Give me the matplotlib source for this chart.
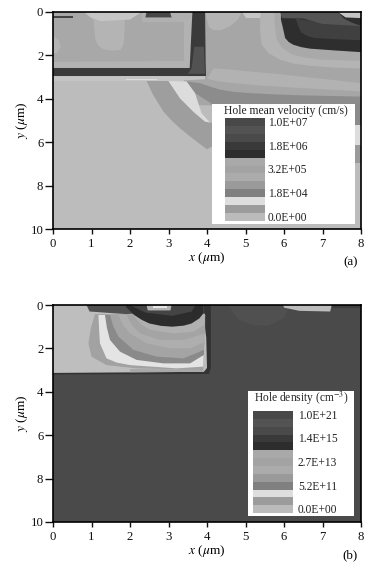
# hole velocity and hole density maps, two panels
import matplotlib
matplotlib.use("Agg")
import matplotlib.pyplot as plt

plt.rcParams["font.family"] = ["Liberation Serif", "DejaVu Serif"]
plt.rcParams["mathtext.fontset"] = "stix"

x_ticks = [0, 1, 2, 3, 4, 5, 6, 7, 8]
y_ticks = [0, 2, 4, 6, 8, 10]

# colours of the legend bands, top to bottom
band_greys = ["#484848", "#535353", "#4a4a4a", "#393939", "#2d2d2d", "#a9a9a9", "#a3a3a3",
              "#ababab", "#9a9a9a", "#808080", "#dedede", "#9c9c9c", "#bbbbbb"]
labels_a = ["1.0E+07", "1.8E+06", "3.2E+05", "1.8E+04", "0.0E+00"]
labels_b = ["1.0E+21", "1.4E+15", "2.7E+13", "5.2E+11", "0.0E+00"]

# panel a regions, (x, y) outlines in um
a_back = [(0, 0), (8, 0), (8, 10), (0, 10)]
a_strip = [(0, 2.9), (4.0, 2.9), (4.0, 3.2), (0, 3.2)]
a_strip_line = [(1.9, 3.09), (2.7, 3.09), (2.7, 3.14), (1.9, 3.14)]
a_right = [(3.95, 0), (8, 0), (8, 4.3), (3.4, 4.3), (3.4, 3.15), (3.95, 3.1)]
a_lobe_tl = [(3.95, 0), (4.9, 0), (4.8, 0.35), (4.6, 0.65), (4.35, 0.85), (4.15, 0.82), (4.05, 0.7)]
a_top_light = [(4.9, 0), (5.95, 0), (5.95, 0.28), (5.0, 0.28)]
a_arc_out = [(5.38, 0.28), (5.38, 0.9), (5.42, 1.5), (5.6, 1.9), (5.9, 2.2), (6.25, 2.38), (6.68, 2.48), (7.3, 2.56),
             (8, 2.6), (8, 0), (5.4, 0)]
a_arc_in = [(5.75, 0.28), (5.78, 0.9), (5.82, 1.3), (5.95, 1.65), (6.2, 1.95), (6.55, 2.1), (7, 2.2), (8, 2.25),
            (8, 0), (5.75, 0)]
a_band_light = [(4.17, 2.6), (4.6, 2.65), (5.12, 2.74), (5.8, 2.85), (6.42, 2.97), (7.2, 3.12), (8, 3.28), (8, 3.66),
                (7.2, 3.58), (6.42, 3.5), (5.5, 3.4), (4.69, 3.28), (4.3, 3.2), (4.0, 3.08)]
a_band_dark = [(3.47, 3.2), (3.82, 3.28), (4.05, 3.42), (4.34, 3.58), (4.7, 3.68), (5.12, 3.74), (5.8, 3.8), (6.42, 3.84),
               (8, 3.9), (8, 4.3), (4.13, 4.3), (4.1, 4.2), (3.69, 3.74)]
a_blob = [(5.92, 0), (5.92, 0.35), (5.98, 0.8), (6.03, 1.2), (6.12, 1.38), (6.24, 1.51), (6.45, 1.62), (6.68, 1.69),
          (7.3, 1.77), (8, 1.85), (8, 0)]
a_blob_mid = [(6.3, 0.3), (6.38, 0.7), (6.45, 0.95), (6.6, 1.1), (6.8, 1.2), (7.4, 1.26), (8, 1.3), (8, 0.6), (7, 0.5)]
a_blob_top = [(5.9, 0), (7.4, 0), (7.55, 0.3), (7.75, 0.48), (8, 0.65), (7, 0.55), (6.5, 0.3), (5.95, 0.28)]
a_corner = [(7.4, 0), (8, 0), (8, 0.28), (7.6, 0.25)]
a_wedge = [(2.43, 3.18), (2.6, 3.82), (2.87, 4.59), (3.05, 4.95), (3.3, 5.36), (3.5, 5.65), (3.73, 5.97), (4.0, 6.33), (4.13, 6.2),
           (4.13, 5.1), (3.95, 5.05), (3.65, 4.6), (3.3, 3.98), (3.0, 3.18)]
a_wedge_light = [(3.0, 3.18), (3.47, 3.2), (3.69, 3.74), (3.86, 4.67), (4.08, 5.1), (3.95, 5.05), (3.65, 4.6), (3.3, 3.98)]
a_box = [(0, 0), (3.62, 0), (3.62, 2.6), (0, 2.6)]
a_box_top = [(2.3, 0), (3.6, 0), (3.6, 0.45), (2.3, 0.45)]
a_box_bottom = [(0, 2.3), (3.6, 2.25), (3.6, 2.6), (0, 2.6)]
a_box_side = [(3.4, 0.3), (3.6, 0.3), (3.6, 2.3), (3.4, 2.3)]
a_lobe = [(1.05, 0.3), (1.1, 1.3), (1.18, 1.55), (1.3, 1.72), (1.55, 1.78), (1.75, 1.75), (1.83, 1.5), (1.85, 1.2), (1.87, 0.3)]
a_lobe_left = [(0, 1.1), (0.15, 1.3), (0.2, 1.6), (0.1, 1.9), (0, 1.9)]
a_arc_top = [(0.8, 0), (1.0, 0.28), (1.25, 0.42), (2.0, 0.35), (2.3, 0)]
a_bar = [(0, 0.18), (0.53, 0.18), (0.53, 0.26), (0, 0.26)]
a_gate = [(2.43, 0), (3.04, 0), (3.08, 0.25), (2.4, 0.25)]
a_frame_h = [(0, 2.58), (3.6, 2.58), (3.95, 2.4), (3.97, 2.95), (0, 2.95)]
a_frame_v = [(3.62, 0), (3.95, 0), (3.97, 2.95), (3.5, 2.95), (3.55, 2.58)]
a_frame_in = [(3.67, 1.6), (3.92, 1.6), (3.95, 2.85), (3.5, 2.85), (3.6, 2.6)]
a_edge_dark = [(7.84, 4.24), (8, 4.24), (8, 5.2), (7.84, 5.2)]
a_edge_light = [(7.84, 5.2), (8, 5.2), (8, 6.13), (7.84, 6.13)]
a_edge_mid = [(7.84, 6.13), (8, 6.13), (8, 6.96), (7.84, 6.96)]

# panel b regions
b_back = [(0, 0), (8, 0), (8, 10), (0, 10)]
b_circle = [(4.55, 0), (6.16, 0), (6.0, 0.6), (5.6, 0.95), (5.2, 0.95), (4.8, 0.65)]
b_gate_r = [(5.98, 0), (7.24, 0), (7.2, 0.3), (6.4, 0.27), (6.0, 0.12)]
b_cap_r = [(7.24, 0), (8, 0), (8, 0.12), (7.24, 0.12)]
b_rim = [(3.85, 0), (4.1, 0), (4.1, 2.9), (4.05, 3.18), (0, 3.2), (0, 3.05), (3.85, 3.05)]
b_box = [(0, 0), (3.9, 0), (3.9, 0.4), (3.98, 1.5), (4.0, 2.9), (3.92, 3.08), (0, 3.13)]
b_base_line = [(2.0, 2.95), (3.9, 2.98), (3.92, 3.08), (2.0, 3.1)]
b_l1 = [(1.09, 0.42), (0.98, 1.1), (0.92, 1.77), (1.0, 2.38), (1.39, 2.77), (2.17, 2.92), (3.9, 3.0), (3.95, 0.46)]
b_l2 = [(1.18, 0.46), (1.2, 1.2), (1.22, 1.77), (1.39, 2.46), (1.65, 2.65), (2.0, 2.77), (3.21, 2.92), (3.9, 2.84), (3.95, 0.46)]
b_l3 = [(1.35, 0.46), (1.4, 1.05), (1.48, 1.61), (1.74, 2.15), (2.17, 2.53), (2.87, 2.69), (3.56, 2.69), (3.92, 2.3), (3.95, 0.46)]
b_l4 = [(1.48, 0.46), (1.57, 1.0), (1.7, 1.46), (2.09, 2.07), (2.69, 2.38), (3.39, 2.46), (3.92, 2.07), (3.95, 0.46)]
b_l5 = [(1.7, 0.46), (1.83, 0.95), (2.0, 1.31), (2.43, 1.77), (3.04, 2.0), (3.56, 2.0), (3.95, 1.69), (3.95, 0.46)]
b_l6 = [(1.91, 0.46), (2.06, 0.95), (2.26, 1.31), (2.78, 1.61), (3.39, 1.61), (3.95, 1.31), (3.95, 0.46)]
b_l7 = [(2.09, 0.5), (2.3, 0.9), (2.52, 1.15), (3.13, 1.31), (3.65, 1.23), (3.93, 0.92), (3.95, 0.4)]
b_strip = [(0.87, 0), (0.95, 0.3), (1.9, 0.42), (2.1, 0.4), (2.1, 0)]
b_blob = [(1.9, 0), (1.9, 0.1), (2.1, 0.45), (2.3, 0.68), (2.5, 0.85), (2.8, 0.96), (3.1, 1.0), (3.4, 0.95), (3.6, 0.85), (3.8, 0.62), (3.9, 0.4), (3.9, 0)]
b_blob_in = [(2.0, 0), (2.4, 0.35), (3.1, 0.5), (3.6, 0.3), (3.7, 0)]
b_gate = [(2.43, 0), (3.08, 0), (3.05, 0.25), (2.46, 0.25)]
b_gate_bar = [(2.6, 0.05), (2.95, 0.05), (2.95, 0.15), (2.6, 0.15)]

regions_a = [
    ("#bcbcbc", a_back), ("#c4c4c4", a_strip), ("#dcdcdc", a_strip_line), ("#a6a6a6", a_right),
    ("#b4b4b4", a_lobe_tl), ("#c6c6c6", a_top_light), ("#b4b4b4", a_arc_out), ("#a9a9a9", a_arc_in),
    ("#b2b2b2", a_band_light), ("#8c8c8c", a_band_dark), ("#2e2e2e", a_blob), ("#404040", a_blob_mid),
    ("#555555", a_blob_top), ("#c4c4c4", a_corner), ("#9e9e9e", a_wedge), ("#dcdcdc", a_wedge_light),
    ("#a8a8a8", a_box), ("#b0b0b0", a_box_top), ("#b2b2b2", a_box_bottom), ("#b2b2b2", a_box_side),
    ("#b4b4b4", a_lobe), ("#b4b4b4", a_lobe_left), ("#c6c6c6", a_arc_top), ("#444444", a_bar),
    ("#484848", a_gate), ("#3a3a3a", a_frame_h), ("#3a3a3a", a_frame_v), ("#525252", a_frame_in),
    ("#8a8a8a", a_edge_dark), ("#dddddd", a_edge_light), ("#9a9a9a", a_edge_mid),
]
regions_b = [
    ("#4a4a4a", b_back), ("#505050", b_circle), ("#bcbcbc", b_gate_r), ("#3e3e3e", b_cap_r),
    ("#333333", b_rim), ("#bebebe", b_box), ("#a8a8a8", b_base_line), ("#a2a2a2", b_l1),
    ("#e4e4e4", b_l2), ("#8a8a8a", b_l3), ("#a4a4a4", b_l4), ("#aeaeae", b_l5),
    ("#a4a4a4", b_l6), ("#b0b0b0", b_l7), ("#505050", b_strip), ("#2c2c2c", b_blob),
    ("#444444", b_blob_in), ("#b4b4b4", b_gate), ("#e6e6e6", b_gate_bar),
]


def draw_legend(ax, title, labels, box, bar, label_x, title_xy, title_size):
    ax.fill([box[0], box[1], box[1], box[0]], [box[2], box[2], box[3], box[3]], color="white", lw=0, zorder=3)
    h = (bar[3] - bar[2]) / len(band_greys)
    for i, grey in enumerate(band_greys):
        ax.barh(bar[2] + (i + 0.5) * h, bar[1] - bar[0], height=h, left=bar[0], color=grey, lw=0, zorder=4)
    for i, lab in enumerate(labels):
        ax.text(label_x, bar[2] + (3 * i + 0.5) * h + 0.04, lab, fontsize=8.3, color="#222222", ha="left", va="center", zorder=5)
    ax.text(title_xy[0], title_xy[1], title, fontsize=title_size, color="#222222", ha="center", va="center", zorder=5)


def draw_panel(ax, regions, tag):
    for grey, outline in regions:
        ax.fill([p[0] for p in outline], [p[1] for p in outline], color=grey, lw=0)
    ax.set_xlim(0, 8)
    ax.set_ylim(10, 0)
    ax.set_xticks(x_ticks)
    ax.set_yticks(y_ticks)
    ax.tick_params(axis="x", length=3.8, width=1.0, labelsize=9.2, pad=2.5, colors="#111111")
    ax.tick_params(axis="y", length=5.5, width=1.0, labelsize=9.2, pad=1.5, colors="#111111")
    for s in ax.spines.values():
        s.set_linewidth(1.2)
    ax.set_xlabel(r"$x$ ($\mu$m)", fontsize=9.6, labelpad=0)
    ax.set_ylabel(r"$y$ ($\mu$m)", fontsize=9.6, labelpad=0.5)
    ax.text(7.72, 11.52, tag, fontsize=9.4, ha="center", va="center", clip_on=False)


fig = plt.figure(figsize=(3.92, 5.72), dpi=100)
ax_a = fig.add_axes([53 / 392, 1 - 229 / 572, 308 / 392, 217 / 572])
ax_b = fig.add_axes([53 / 392, 1 - 522 / 572, 308 / 392, 217 / 572])

draw_panel(ax_a, regions_a, "(a)")
draw_legend(ax_a, "Hole mean velocity (cm/s)", labels_a, (4.13, 7.84, 4.24, 9.77), (4.465, 5.5, 4.885, 9.63), 5.58, (6.06, 4.56), 8.4)

draw_panel(ax_b, regions_b, "(b)")
draw_legend(ax_b, "Hole density (cm$^{-3}$)", labels_b, (5.06, 7.83, 3.95, 9.72), (5.19, 6.24, 4.89, 9.59), 6.36, (6.46, 4.3), 8.3)

fig.savefig("out.png", dpi=100)
